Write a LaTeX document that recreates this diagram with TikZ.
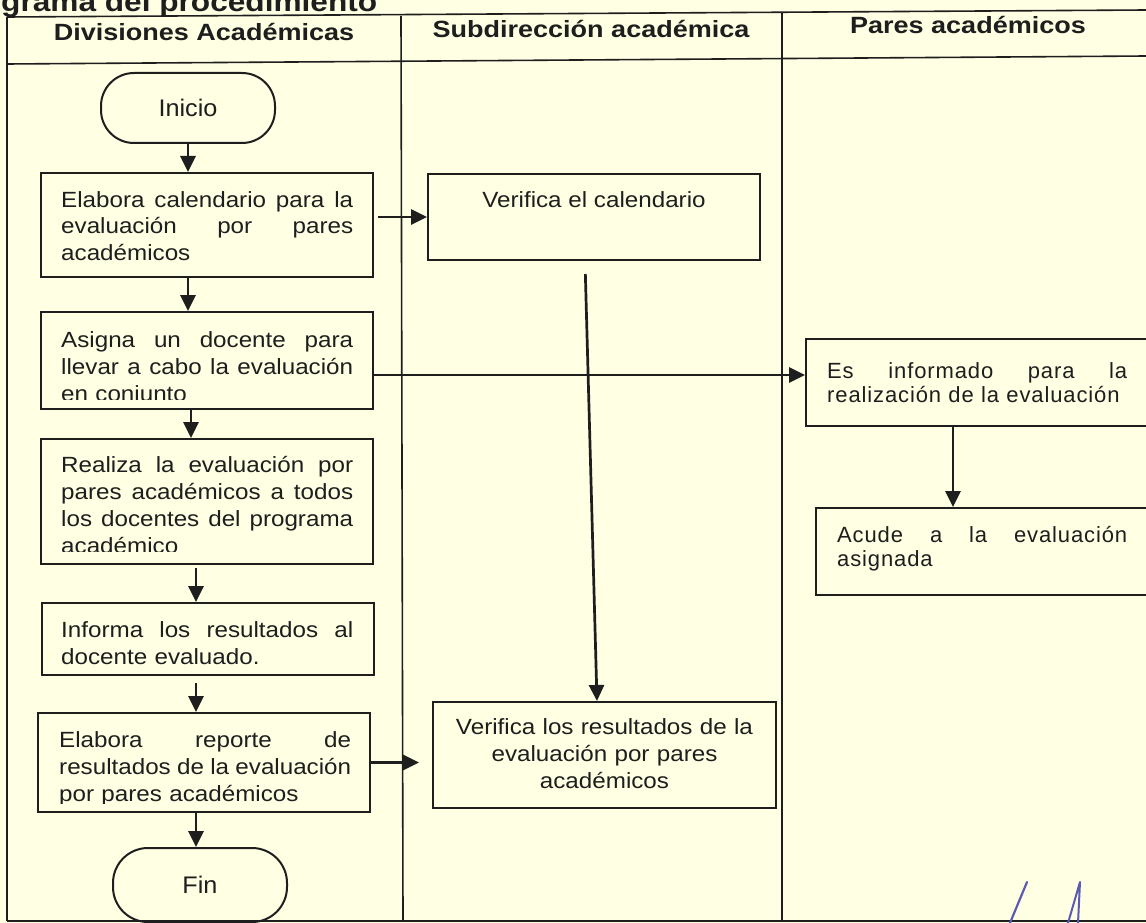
\documentclass[tikz,border=0pt]{standalone}
\usepackage{fontspec}
\setmainfont{Liberation Sans}[FakeStretch=1.1]
\newfontfamily\hdrfont{Liberation Sans}[FakeStretch=1.15]
\newfontfamily\termfont{Liberation Sans}[FakeStretch=1.05]
\newfontfamily\trackfont{Liberation Sans}[LetterSpace=4]
\usetikzlibrary{arrows.meta,calc}
\definecolor{paper}{HTML}{FFFFE3}
\definecolor{ink}{HTML}{1E1E1E}
\definecolor{sigblue}{HTML}{5B5BB5}
\newcommand\jl[2][292pt]{\leavevmode\hbox to #1{\spaceskip=0.28em plus 10em\relax #2}}
\begin{document}
\begin{tikzpicture}[x=1pt,y=-1pt,
  box/.style={draw=ink,line width=2pt,rectangle,inner sep=0pt},
  term/.style={draw=ink,line width=2pt,rectangle,inner sep=0pt,minimum width=174pt,text=ink,font=\termfont\fontsize{24}{28}\selectfont},
  txt/.style={inner sep=0pt,anchor=base west,align=left,font=\fontsize{22}{27}\selectfont,text=ink},
  rtxt/.style={inner sep=0pt,anchor=base west,align=left,font=\trackfont\fontsize{22}{24}\selectfont,text=ink},
  ctxt/.style={inner sep=0pt,anchor=base,align=center,font=\fontsize{22}{27}\selectfont,text=ink},
  hdr/.style={inner sep=0pt,anchor=base,font=\hdrfont\bfseries\fontsize{23.5}{28}\selectfont,text=ink},
  arr/.style={draw=ink,line width=2.7pt,-{Triangle[length=16pt,width=15pt]}},
  tableline/.style={draw=ink,line width=1.6pt}]
\clip (0,0) rectangle (1146,923);
\fill[paper] (0,0) rectangle (1146,923);

% title (cut off at the top)
\node[anchor=base west,inner sep=0pt,text=ink,font=\hdrfont\bfseries\fontsize{27.5}{32}\selectfont] (title) at (1,12) {grama del procedimiento};

% table
\draw[tableline] (7,17) -- (1146,10);
\draw[tableline] (7,64) -- (1146,56);
\draw[tableline] (7,17) -- (7,921);
\draw[tableline] (401,16) -- (403,921);
\draw[tableline] (782,12) -- (782,921);
\draw[tableline] (7,921) -- (1146,921);

\node[hdr] (h1) at (204,41) {Divisiones Académicas};
\node[hdr] (h2) at (591,38) {Subdirección académica};
\node[hdr] (h3) at (968,34) {Pares académicos};

% left column
\node[term,minimum height=70pt,rounded corners=33pt] (ini) at (188,108) {Inicio};

\node[box,minimum width=332pt,minimum height=104pt] (b1) at (207,225) {};
\node[txt,text width=292pt] (b1t) at (61,207) {\jl{Elabora calendario para la}\\\jl{evaluación por pares}\\académicos};

\node[box,minimum width=332pt,minimum height=97pt] (b2) at (207,360.5) {};
\begin{scope}
\clip (42,313) rectangle (372,399);
\node[txt,text width=292pt] (b2t) at (61,347) {\jl{Asigna un docente para}\\\jl{llevar a cabo la evaluación}\\en conjunto};
\end{scope}

\node[box,minimum width=332pt,minimum height=125pt] (b3) at (207,501.5) {};
\begin{scope}
\clip (42,440) rectangle (372,551);
\node[txt,text width=292pt] (b3t) at (61,472) {\jl{Realiza la evaluación por}\\\jl{pares académicos a todos}\\\jl{los docentes del programa}\\académico};
\end{scope}

\node[box,minimum width=332pt,minimum height=72pt] (b4) at (208,639) {};
\node[txt,text width=292pt] (b4t) at (61,637) {\jl{Informa los resultados al}\\docente evaluado.};

\node[box,minimum width=332pt,minimum height=99pt] (b5) at (204,762.5) {};
\begin{scope}
\clip (39,714) rectangle (369,803);
\node[txt,text width=292pt] (b5t) at (59,747) {\jl{Elabora reporte de}\\\jl{resultados de la evaluación}\\por pares académicos};
\end{scope}

\node[term,minimum height=74pt,rounded corners=35pt] (fin) at (200,885) {Fin};

% middle column
\node[box,minimum width=332pt,minimum height=86pt] (vc) at (594,217) {};
\node[ctxt] (vct) at (594,207) {Verifica el calendario};

\node[box,minimum width=343pt,minimum height=106pt] (vr) at (604.5,755) {};
\node[ctxt,text width=330pt] (vrt) at (604.5,734) {Verifica los resultados de la\\evaluación por pares\\académicos};

% right column
\node[box,minimum width=364pt,minimum height=87pt] (ei) at (988,382.5) {};
\node[rtxt,text width=300pt] (eit) at (827,378) {\jl[300pt]{Es informado para la}\\realización de la evaluación};

\node[box,minimum width=354pt,minimum height=87pt] (ac) at (993,551.5) {};
\node[rtxt,text width=290pt] (act) at (837,542) {\jl[290pt]{Acude a la evaluación}\\asignada};

% connectors
\draw[arr] (ini.south) -- (ini.south |- b1.north);
\path (ini.south |- b1.south) coordinate (s1);
\draw[arr] (s1) -- (s1 |- b2.north);
\path ([xshift=-16pt]b2.south) coordinate (s2);
\draw[arr] (s2) -- (s2 |- b3.north);
\path ([xshift=-11pt]b3.south) coordinate (s3);
\draw[arr,shorten <=3pt] (s3) -- (s3 |- b4.north);
\path ([xshift=-12pt]b4.south) coordinate (s4);
\draw[arr,shorten <=7pt] (s4) -- (s4 |- b5.north);
\path ([xshift=-4pt]fin.north) coordinate (s5);
\draw[arr] (s5 |- b5.south) -- (s5);

\draw[arr,shorten <=4pt] (b1.east |- vc.west) -- (vc.west);
\path ([yshift=-14.5pt]b2.east) coordinate (j2);
\draw[arr] (j2) -- (j2 -| ei.west);
\draw[arr,shorten >=13pt] (b5.east) -- (b5.east -| vr.west);
\path ([xshift=-9pt]vc.south) coordinate (s6);
\path ([xshift=-7.5pt]vr.north) coordinate (s7);
\draw[arr,shorten <=13pt] (s6) -- (s7);
\path ([xshift=-35pt]ei.south) coordinate (s8);
\draw[arr] (s8) -- (s8 |- ac.north);

% signature strokes
\draw[sigblue,line width=2.2pt,line cap=round] (1010,923) -- (1027,882);
\draw[sigblue,line width=2pt,line cap=round,line join=round] (1068,923) -- (1080,882) -- (1078,923);
\end{tikzpicture}
\end{document}
